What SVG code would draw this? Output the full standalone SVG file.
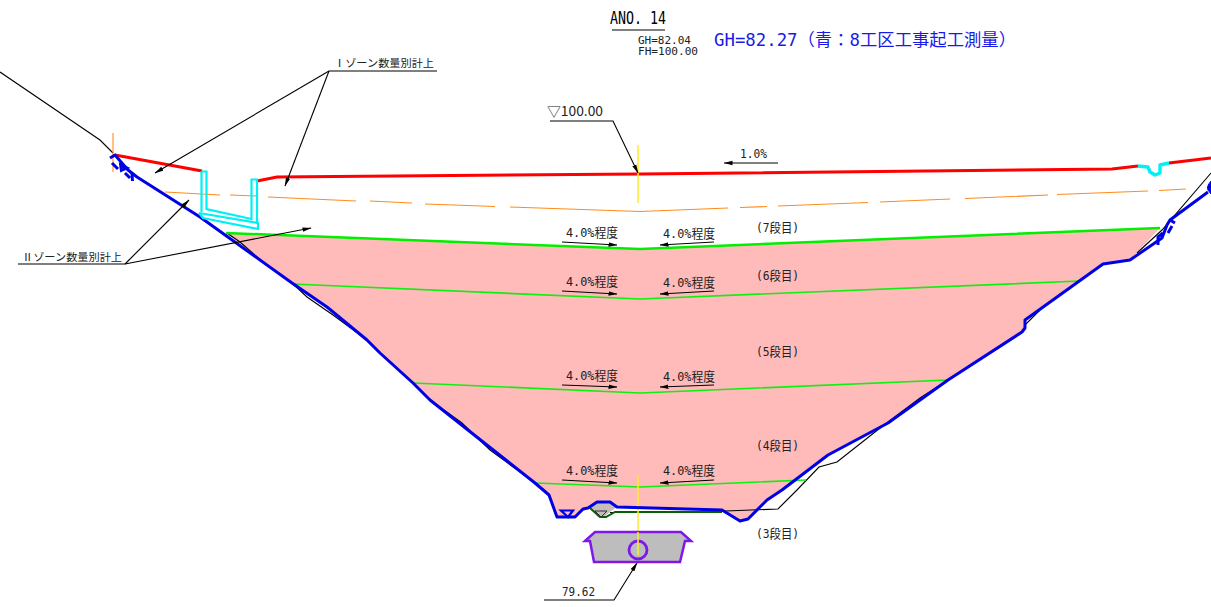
<svg xmlns="http://www.w3.org/2000/svg" width="1211" height="607" viewBox="0 0 1211 607">
<style>
text{font-family:"DejaVu Sans Mono","Noto Sans CJK JP",monospace;fill:#222;font-size:13px}
.s{font-size:10.500px}
.l{fill:none;stroke:#000;stroke-width:1.100}
.g{fill:none;stroke:#10f010;stroke-width:1.700}
.g2{fill:none;stroke:#00f000;stroke-width:2.500}
.r{fill:none;stroke:#f00;stroke-width:3}
.b{fill:none;stroke:#0000e6;stroke-width:3;stroke-linejoin:round}
.c{fill:none;stroke:#00f0f5;stroke-width:2.200}
.o{fill:none;stroke:#ff8c1a;stroke-width:1.100}
.y{fill:none;stroke:#ffee22;stroke-width:1.500}
</style>
<defs><marker id="a" markerWidth="9" markerHeight="6" refX="8.500" refY="3" orient="auto" markerUnits="userSpaceOnUse"><path d="M0 0.800L9 3L0 5.200Z" fill="#000"/></marker></defs>
<g id="fill"><path d="M226 233L640 249L1160 228L1130 260L1103 264L1025 320L1025 328L1022 332L948 380L888 423L828 455L782 490L767 500L748 519L740 521L722 510L617 507L610 502L597 502L588 508L575 517L557 517L549 495L535 483L430 400L413 383L380 353L367 340L327 307L292 283Z" fill="#ffbaba"/>
<path d="M590 508L597 502L610 502L617 507L610 512L604 517L598 517Z" fill="#c6bcbc"/></g>
<g id="connectors">
<path class="l" d="M0 72L100 140L113 153"/>
<path class="l" d="M227 233L240 242L263 262L292 283L307 297L333 315L367 340M430 400L462 423L490 450L535 483M1211 173L1162 230L1137 253M1025 325L1040 310M948 380L920 398L888 422L875 432L837 462L819 467L797 490L778 509L700 512M610 512.500L700 512"/>
<path class="o" d="M165 192L220 195M230 195L257 196M268 197L356 201M370 201L412 203M425 204L495 206.500M510 207L640 211.500L728 208M740 207.500L767 206.500M778 206L868 202.500M880 202L950 199M965 198.500L1048 195M1057 194.500L1148 191M1159 190.500L1186 189"/>
<path class="o" d="M113 133V172"/>
<path class="g2" d="M226 233L640 249L1160 228"/>
<path class="g" d="M292 284L640 299L1080 281M413 383L640 393L948 380M535 483L640 487L806 480"/>
<path d="M590 508L600 517L606 517L615 512L722 512" fill="none" stroke="#075f07" stroke-width="2"/>
<path class="r" d="M115 155L202 171M257 181L277 177L640 174L1112 169L1138 166M1169 163L1211 158"/>
<path class="y" d="M638 145V203M638 475V560"/>
<path class="b" d="M110 158L115 155L128 170L137 177L200 217L292 283L327 307L367 340L380 353L413 383L430 400L535 483L549 495L557 517L575 517L583 509L588 508L597 502L610 502L617 507L722 510L740 521L748 519L767 500L782 490L828 455L888 423L948 380L1022 332L1025 328L1025 320L1103 264L1130 260L1162 238L1167 225L1170 220L1208 192"/>
<path class="b" d="M112 163L118 169M125 173L130 178M132 173L132.500 181M1170 220L1175 223M1172 226L1168 233M1158 245L1158 237L1163 233"/>
<path d="M120 164L128 168L121 171Z" fill="#0000e6" stroke="#0000e6" stroke-width="2"/>
<path d="M1211 181Q1206 187 1208 190L1211 194Z" fill="#0000e6" stroke="#0000e6"/>
<path d="M1138 166L1148 167L1150 172L1155 175L1160 173V165L1169 163" fill="none" stroke="#00f0f5" stroke-width="3.400" stroke-linejoin="round"/>
<path class="c" d="M201.500 171.500H206.500V209L251.500 219V179.500H257V224M201.500 171.500V212M199 213L258 223V229L203 218L199 213"/>
<path class="l" stroke="#444" d="M329 71H437"/>
<path class="l" d="M329 71L155 173" marker-end="url(#a)"/><path class="l" d="M329 71L285 186" marker-end="url(#a)"/>
<path class="l" d="M18 264H125"/>
<path class="l" d="M125 264L189 200" marker-end="url(#a)"/><path class="l" d="M125 264L311 228" marker-end="url(#a)"/>
<path class="l" d="M550 121H613L638 173" marker-end="url(#a)"/>
<path class="l" d="M778 163H724" marker-end="url(#a)"/>
<path class="l" d="M562 242L617 245" marker-end="url(#a)"/><path class="l" d="M714 242L660 245" marker-end="url(#a)"/>
<path class="l" d="M562 291L617 294" marker-end="url(#a)"/><path class="l" d="M714 291L660 294" marker-end="url(#a)"/>
<path class="l" d="M562 385L617 387" marker-end="url(#a)"/><path class="l" d="M714 385L660 387" marker-end="url(#a)"/>
<path class="l" d="M562 480L617 483" marker-end="url(#a)"/><path class="l" d="M714 480L660 483" marker-end="url(#a)"/>
<path class="l" d="M544 600H614L637 563" marker-end="url(#a)"/>
<path class="l" d="M612 30H665"/>
</g>
<g id="culvert"><path d="M585 541L595 532H681L691 541L685 541L680 562H594L590 541Z" fill="#bdbdbd" stroke="#7f17e8" stroke-width="2.500"/><circle cx="638" cy="550" r="9" fill="#bdbdbd" stroke="#7f17e8" stroke-width="2.800"/><path class="y" d="M638 532V555"/></g>
<g id="ditches"><path d="M561 510.500H573L568 517Z" fill="#ffbaba" stroke="#0000e6" stroke-width="2.200"/><path d="M595 511H607L601 517Z" fill="none" stroke="#333"/></g>
<g id="labels">
<text x="610" y="24" textLength="56" lengthAdjust="spacingAndGlyphs" style="font-size:18px;fill:#000">ANO. 14</text>
<text x="638" y="44" textLength="53" lengthAdjust="spacingAndGlyphs" style="font-size:10.500px">GH=82.04</text>
<text x="638" y="55" textLength="60" lengthAdjust="spacingAndGlyphs" style="font-size:10.500px">FH=100.00</text>
<text x="714" y="46" textLength="302" lengthAdjust="spacingAndGlyphs" style="fill:#1a1ae6;font-size:17px">GH=82.27（青：8工区工事起工測量）</text>
<text class="s" x="334" y="67" textLength="100" lengthAdjust="spacingAndGlyphs">Ⅰゾーン数量別計上</text>
<text class="s" x="22" y="261" textLength="100" lengthAdjust="spacingAndGlyphs">Ⅱゾーン数量別計上</text>
<text x="547" y="116" textLength="56" lengthAdjust="spacingAndGlyphs" style="font-family:'Noto Sans CJK JP',sans-serif">▽100.00</text>
<text x="740" y="158" textLength="27" lengthAdjust="spacingAndGlyphs">1.0%</text>
<text x="566" y="237" textLength="52" lengthAdjust="spacingAndGlyphs">4.0%程度</text><text x="663" y="238" textLength="52" lengthAdjust="spacingAndGlyphs">4.0%程度</text>
<text x="566" y="286" textLength="52" lengthAdjust="spacingAndGlyphs">4.0%程度</text><text x="663" y="287" textLength="52" lengthAdjust="spacingAndGlyphs">4.0%程度</text>
<text x="566" y="380" textLength="52" lengthAdjust="spacingAndGlyphs">4.0%程度</text><text x="663" y="381" textLength="52" lengthAdjust="spacingAndGlyphs">4.0%程度</text>
<text x="566" y="475" textLength="52" lengthAdjust="spacingAndGlyphs">4.0%程度</text><text x="663" y="475" textLength="52" lengthAdjust="spacingAndGlyphs">4.0%程度</text>
<text x="756" y="232" textLength="43" lengthAdjust="spacingAndGlyphs">(7段目)</text>
<text x="756" y="280" textLength="43" lengthAdjust="spacingAndGlyphs">(6段目)</text>
<text x="756" y="356" textLength="43" lengthAdjust="spacingAndGlyphs">(5段目)</text>
<text x="756" y="450" textLength="43" lengthAdjust="spacingAndGlyphs">(4段目)</text>
<text x="756" y="538" textLength="43" lengthAdjust="spacingAndGlyphs">(3段目)</text>
<text x="562" y="596" textLength="33" lengthAdjust="spacingAndGlyphs">79.62</text>
</g>
</svg>
